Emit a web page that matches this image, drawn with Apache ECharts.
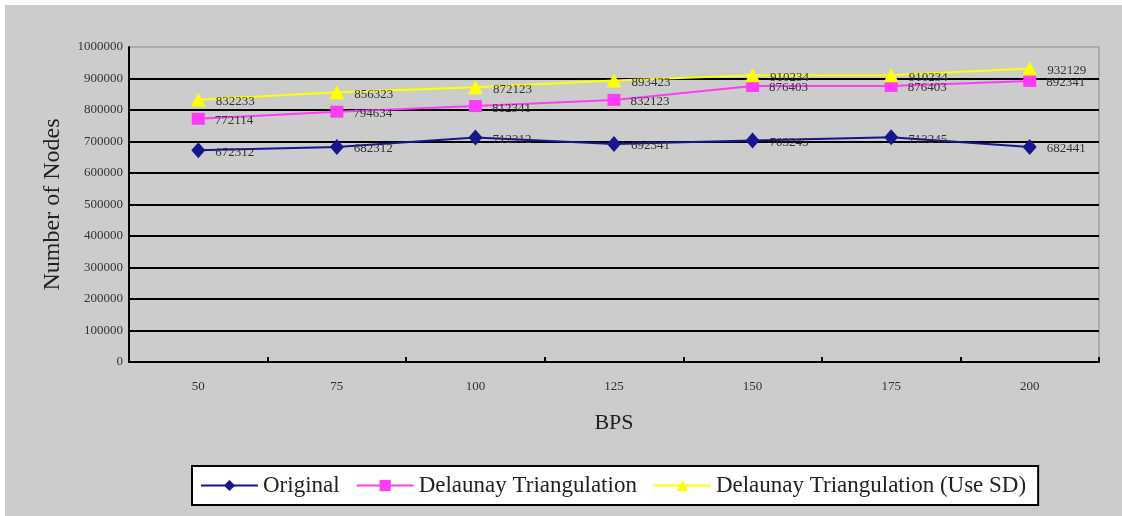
<!DOCTYPE html>
<html>
<head>
<meta charset="utf-8">
<script src="https://cdn.jsdelivr.net/npm/echarts@6/dist/echarts.min.js"></script>
<style>
  html, body { margin: 0; padding: 0; background: #fff; }
  #main { position: absolute; left: 5px; top: 5px; width: 1117px; height: 511px; }
</style>
</head>
<body>
<div id="main"></div>
<script>
// BPS values on the x axis
var bps = ["50", "75", "100", "125", "150", "175", "200"];
// number of nodes per method
var original = [672312, 682312, 712312, 692341, 703245, 713245, 682441];
var delaunay = [772114, 794634, 812341, 832123, 876403, 876403, 892341];
var delaunaySD = [832233, 856323, 872123, 893423, 910234, 910234, 932129];

var serif = "Liberation Serif";

function lineSeries(name, data, color, symbol, size) {
  return {
    name: name,
    type: "line",
    data: data,
    symbol: symbol,
    symbolSize: size,
    lineStyle: { color: color, width: 2 },
    itemStyle: { color: color },
    label: {
      show: true,
      position: "right",
      distance: 10,
      offset: [0, 2],
      color: "#333",
      fontFamily: serif,
      fontSize: 13
    }
  };
}

var myChart = echarts.init(document.getElementById("main"));
var option = {
  backgroundColor: "#cccccc",
  animation: false,
  textStyle: { fontFamily: serif },
  grid: {
    left: 124,
    top: 42,
    right: 23,
    bottom: 154,
    show: true,
    borderColor: "#888",
    borderWidth: 1
  },
  xAxis: {
    type: "category",
    data: bps,
    name: "BPS",
    nameLocation: "middle",
    nameGap: 50,
    nameTextStyle: { color: "#222", fontSize: 22, fontFamily: serif },
    axisLine: { lineStyle: { color: "#000", width: 2 } },
    axisTick: { show: true, inside: true, length: 5, lineStyle: { color: "#000", width: 2 } },
    axisLabel: { color: "#333", fontSize: 13, fontFamily: serif, margin: 18 },
    splitLine: { show: false }
  },
  yAxis: {
    type: "value",
    min: 0,
    max: 1000000,
    interval: 100000,
    name: "Number of Nodes",
    nameLocation: "middle",
    nameGap: 64,
    nameTextStyle: { color: "#222", fontSize: 24, fontFamily: serif },
    axisLine: { show: true, lineStyle: { color: "#000", width: 2 } },
    axisTick: { show: false },
    axisLabel: {
      color: "#333", fontSize: 13, fontFamily: serif, margin: 6,
      formatter: function (v) { return String(v); }
    },
    splitLine: { show: true, showMaxLine: false, lineStyle: { color: "#000", width: 2 } }
  },
  legend: {
    left: 187,
    top: 461,
    orient: "horizontal",
    backgroundColor: "#fff",
    borderColor: "#000",
    borderWidth: 2,
    borderRadius: 0,
    padding: [8, 12, 8, 8],
    itemWidth: 57,
    itemHeight: 14,
    itemGap: 16,
    textStyle: { color: "#222", fontSize: 23, fontFamily: serif },
    data: ["Original", "Delaunay Triangulation", "Delaunay Triangulation (Use SD)"]
  },
  series: [
    lineSeries("Original", original, "#16168e", "diamond", [14, 16]),
    lineSeries("Delaunay Triangulation", delaunay, "#ff3cf5", "rect", [13, 12]),
    lineSeries("Delaunay Triangulation (Use SD)", delaunaySD, "#ffff00", "triangle", [15, 14])
  ]
};
window.onresize = myChart.resize;
myChart.setOption(option);
</script>
</body>
</html>
